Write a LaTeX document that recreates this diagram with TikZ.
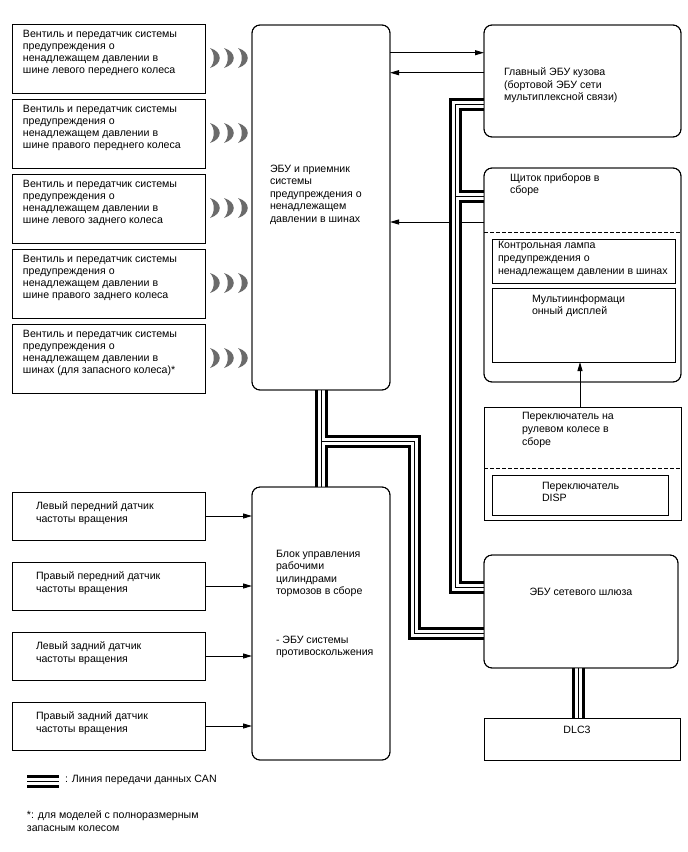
\documentclass[tikz,border=0pt]{standalone}
\usepackage{fontspec}
\setmainfont{Liberation Sans}
\usetikzlibrary{arrows.meta}
\newcommand\wavesat[2]{%
  \foreach \dx in {0,14,28}{%
    \pgfmathsetmacro\wx{#1+\dx}%
    \pgfmathsetmacro\wy{#2}%
    \fill[wave] (\wx,\wy-10) .. controls (\wx+13,\wy-6) and (\wx+13,\wy+6) .. (\wx,\wy+10)
      .. controls (\wx+5,\wy+5) and (\wx+5,\wy-5) .. cycle;}}
\newcommand\canpaths[1]{%
  \draw[#1] (tpms.south) -- (brake.north);
  \draw[#1] (ja) -| (a2) -- (gw.west |- a2);
  \draw[#1] (gw.west |- b1) -- (b1) -- (b2) -- (body.west |- b2);
  \draw[#1] (b3) -- (clu.west |- b3);
  \draw[#1] (gw.south -| dl) -- (dlc.north -| dl);
  \draw[#1] (lg1) -- (lg2);}
\begin{document}
\begin{tikzpicture}[x=1pt,y=-1pt,
  box/.style={draw, line width=0.9pt, inner sep=0pt, outer sep=0pt, anchor=north west},
  rbox/.style={box, rounded corners=8pt},
  txt/.style={font=\fontsize{10.6}{12.6}\selectfont, align=left, inner sep=0pt, outer sep=0pt, anchor=north west, execute at begin node={\rule{0pt}{8pt}}},
  ttxt/.style={txt, font=\fontsize{10.6}{12}\selectfont},
  arr/.style={line width=0.9pt, -{Triangle[length=9pt,width=5pt]}},
  wave/.style={fill=black!58},
  dashline/.style={line width=0.9pt, dash pattern=on 3.5pt off 2.5pt},
  canouter/.style={line width=13pt, black},
  cangap/.style={line width=7pt, white},
  canmid/.style={line width=1pt, black},
]
\useasboundingbox (0,0) rectangle (688,852);

% ---------- boxes ----------
\foreach \i in {1,...,5}{
  \node[box, minimum width=193pt, minimum height=69pt] (t\i) at (12,{24+75*(\i-1)}) {};
}
\node[rbox, minimum width=138pt, minimum height=365pt] (tpms) at (252,25) {};
\node[rbox, minimum width=197pt, minimum height=112pt] (body) at (484,25) {};
\node[rbox, minimum width=197pt, minimum height=214pt] (clu) at (484,168) {};
\node[box, minimum width=183pt, minimum height=44pt] (lamp) at (492,239) {};
\node[box, minimum width=183pt, minimum height=74pt] (disp) at (492,288) {};
\node[box, minimum width=197pt, minimum height=113pt] (sw) at (484,407) {};
\node[box, minimum width=176pt, minimum height=40pt] (dispsw) at (492,475) {};
\node[rbox, minimum width=194pt, minimum height=113pt] (gw) at (484,555) {};
\node[box, minimum width=196pt, minimum height=42pt] (dlc) at (484,718) {};
\node[rbox, minimum width=138pt, minimum height=273pt] (brake) at (252,487) {};
\foreach \i in {1,...,4}{
  \node[box, minimum width=193pt, minimum height=48pt] (s\i) at (12,{492+70*(\i-1)}) {};
}

% ---------- coordinates ----------
\coordinate (y1) at (0,52.7);
\coordinate (y2) at (0,72.7);
\coordinate (y3) at (0,222);
\coordinate (x4) at (580,0);
\coordinate (ja) at (321,441);
\coordinate (a2) at (414,633);
\coordinate (b1) at (455,587);
\coordinate (b2) at (455,104);
\coordinate (b3) at (455,196);
\coordinate (dl) at (578,0);
\coordinate (lg1) at (27,781.5);
\coordinate (lg2) at (59,781.5);
\coordinate (d1) at (484,232);
\coordinate (d2) at (484,468);

% ---------- arrows ----------
\draw[arr] (tpms.east |- y1) -- (body.west |- y1);
\draw[arr] (body.west |- y2) -- (tpms.east |- y2);
\draw[arr] (clu.west |- y3) -- (tpms.east |- y3);
\draw[arr] (sw.north -| x4) -- (disp.south -| x4);
\foreach \i in {1,...,4}{
  \draw[arr] (s\i.east) -- (s\i.east -| brake.west);
}

% ---------- CAN buses ----------
\canpaths{canouter}
\canpaths{cangap}
\canpaths{canmid}

% redraw box borders over bus ends
\draw[line width=0.9pt, rounded corners=8pt] (tpms.north west) rectangle (tpms.south east);
\draw[line width=0.9pt, rounded corners=8pt] (brake.north west) rectangle (brake.south east);
\draw[line width=0.9pt, rounded corners=8pt] (body.north west) rectangle (body.south east);
\draw[line width=0.9pt, rounded corners=8pt] (clu.north west) rectangle (clu.south east);
\draw[line width=0.9pt, rounded corners=8pt] (gw.north west) rectangle (gw.south east);
\draw[line width=0.9pt] (dlc.north west) rectangle (dlc.south east);

% ---------- dashed separators ----------
\draw[dashline] (d1) -- (d1 -| clu.east);
\draw[dashline] (d2) -- (d2 -| sw.east);

% ---------- waves ----------
\foreach \i in {1,...,5}{
  \wavesat{210}{58+75*(\i-1)}
}

% ---------- texts ----------
\node[ttxt] (t1x) at (23,30.5) {Вентиль и передатчик системы\\предупреждения о\\ненадлежащем давлении в\\шине левого переднего колеса};
\node[ttxt] (t2x) at (23,105.5) {Вентиль и передатчик системы\\предупреждения о\\ненадлежащем давлении в\\шине правого переднего колеса};
\node[ttxt] (t3x) at (23,180.5) {Вентиль и передатчик системы\\предупреждения о\\ненадлежащем давлении в\\шине левого заднего колеса};
\node[ttxt] (t4x) at (23,255.5) {Вентиль и передатчик системы\\предупреждения о\\ненадлежащем давлении в\\шине правого заднего колеса};
\node[ttxt] (t5x) at (23,330.5) {Вентиль и передатчик системы\\предупреждения о\\ненадлежащем давлении в\\шинах (для запасного колеса)*};
\node[txt] (tpmsx) at (270,164.7) {ЭБУ и приемник\\системы\\предупреждения о\\ненадлежащем\\давлении в шинах};
\node[txt] (bodyx) at (504,67.7) {Главный ЭБУ кузова\\(бортовой ЭБУ сети\\мультиплексной связи)};
\node[txt] (clux) at (510,173.4) {Щиток приборов в\\сборе};
\node[txt] (lampx) at (498,241.7) {Контрольная лампа\\предупреждения о\\ненадлежащем давлении в шинах};
\node[txt] (dispx) at (532,294.7) {Мультиинформаци\\онный дисплей};
\node[txt] (swx) at (522,412.7) {Переключатель на\\рулевом колесе в\\сборе};
\node[txt] (dispswx) at (542,481.7) {Переключатель\\DISP};
\node[txt, anchor=base] (gwx) at (581,595.7) {ЭБУ сетевого шлюза};
\node[txt, anchor=base] (dlcx) at (577,733.7) {DLC3};
\node[txt] (brakex) at (276,549.7) {Блок управления\\рабочими\\цилиндрами\\тормозов в сборе};
\node[txt] (brakey) at (276,635.7) {- ЭБУ системы\\противоскольжения};
\node[txt] (s1x) at (36,501.7) {Левый передний датчик\\частоты вращения};
\node[txt] (s2x) at (36,571.7) {Правый передний датчик\\частоты вращения};
\node[txt] (s3x) at (36,641.7) {Левый задний датчик\\частоты вращения};
\node[txt] (s4x) at (36,711.7) {Правый задний датчик\\частоты вращения};
\node[txt] (lgx) at (65,774.2) {: Линия передачи данных CAN};
\node[txt] (fnx) at (27,810.7) {*: для моделей с полноразмерным\\запасным колесом};
\end{tikzpicture}
\end{document}
